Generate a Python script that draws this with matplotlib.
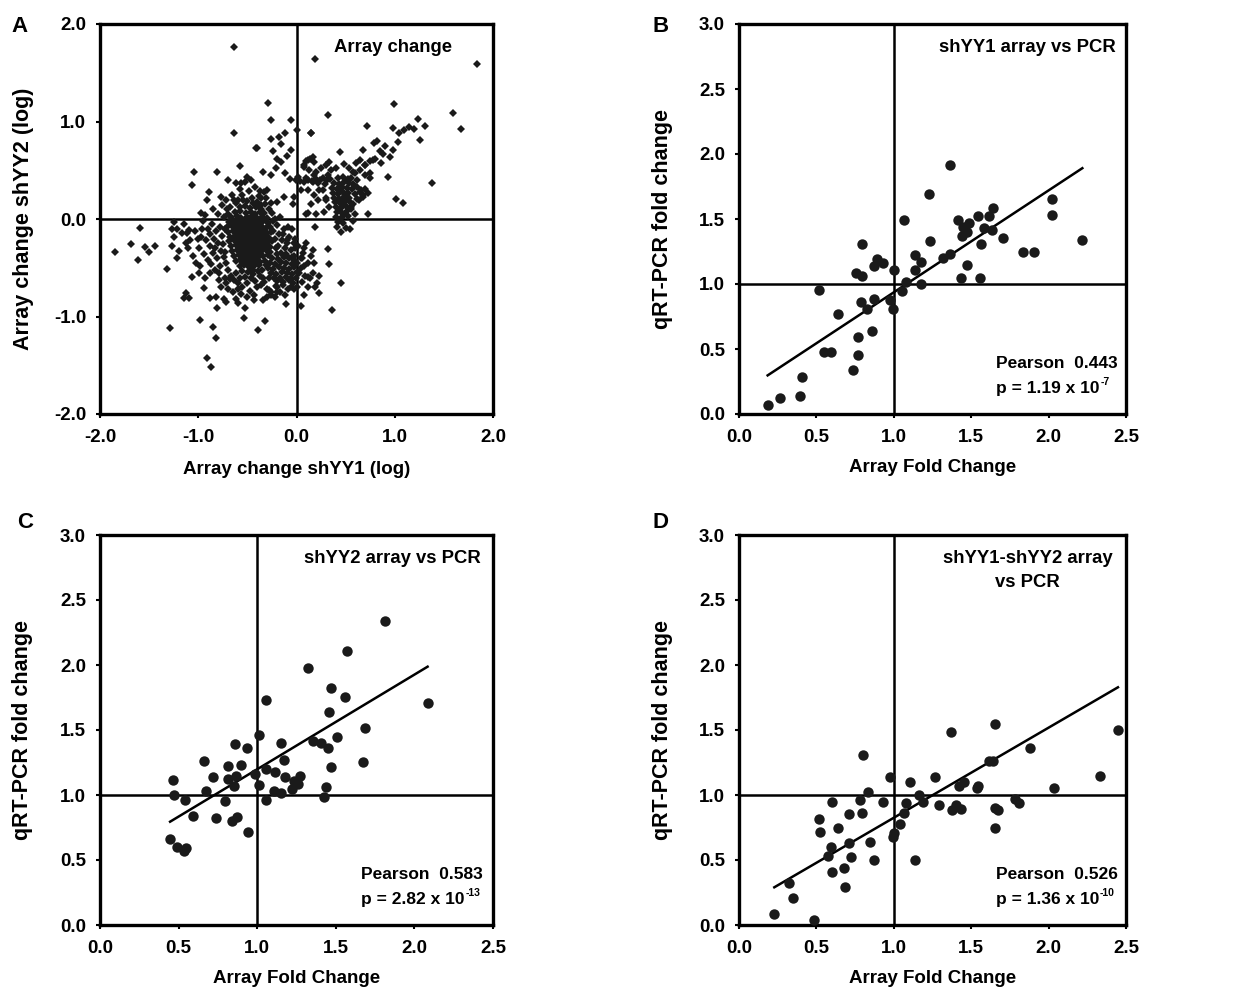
import matplotlib
matplotlib.use("Agg")
import matplotlib.pyplot as plt
import numpy as np

# ---------------- data ----------------
# Panel A: array log changes, shYY1 (x) vs shYY2 (y)
a_outliers = [
    (-0.635, 1.766), (0.187, 1.636), (1.834, 1.588), (-0.289, 1.192), (0.995, 1.175),
    (0.323, 1.066), (1.596, 1.09), (-0.261, 1.015), (-0.058, 1.015), (-0.635, 0.878),
    (0.713, 0.956), (1.677, 0.919), (1.311, 0.956), (1.24, 1.025), (0.978, 0.929),
    (1.046, 0.885), (1.097, 0.912), (1.148, 0.946), (1.199, 0.919), (1.26, 0.81),
    (0.01, 0.912), (0.149, 0.878), (-0.119, 0.878), (-0.177, 0.844), (-0.255, 0.816),
    (-0.407, 0.731), (-0.16, 0.765), (-0.058, 0.707), (0.815, 0.799), (0.791, 0.775),
    (1.029, 0.792), (0.978, 0.707), (0.954, 0.639), (0.876, 0.666), (0.774, 0.605),
    (0.859, 0.57), (0.672, 0.707), (0.645, 0.605), (0.696, 0.553), (0.747, 0.468),
    (0.604, 0.57), (0.441, 0.69), (0.326, 0.588), (0.401, 0.526), (0.486, 0.56),
    (0.53, 0.519), (0.577, 0.485), (0.927, 0.434), (1.012, 0.205), (1.08, 0.161),
    (1.375, 0.369), (0.73, 0.048), (0.458, -0.13), (0.547, -0.106), (0.452, -0.659),
    (0.36, -0.932), (0.316, -0.311), (0.333, -0.465), (0.187, -0.079), (0.112, 0.058),
    (0.163, 0.383), (0.18, 0.451), (0.078, 0.536), (0.112, 0.605), (0.163, 0.639),
    (0.146, 0.878), (0.231, 0.297), (0.299, 0.195), (0.282, 0.075), (-0.024, 0.229),
    (-0.031, 0.154), (0.80, 0.62), (0.85, 0.70), (0.90, 0.75), (0.70, 0.55), (0.75, 0.60),
]
a_left = [
    (-1.851, -0.335), (-1.688, -0.256), (-1.613, -0.42), (-1.593, -0.089), (-1.545, -0.29),
    (-1.497, -0.342), (-1.443, -0.273), (-1.314, -0.509), (-1.284, -1.114), (-1.246, -0.027),
    (-1.263, -0.102), (-1.212, -0.106), (-1.161, -0.147), (-1.246, -0.188), (-1.263, -0.277),
    (-1.195, -0.325), (-1.212, -0.403), (-1.127, -0.249), (-1.11, -0.147), (-1.093, -0.113),
    (-1.059, 0.345), (-1.042, 0.482), (-1.059, -0.591), (-1.127, -0.762), (-1.144, -0.813),
    (-1.093, -0.813), (-0.985, -1.035), (-0.941, -0.711), (-0.992, -0.557), (-0.907, -1.428),
    (-0.873, -1.513), (-0.852, -1.103), (-0.822, -1.216), (-0.883, -0.813), (-0.822, -0.796),
    (-0.805, -0.915), (-0.737, -0.82), (-0.713, -0.847), (-0.591, -0.864), (-0.523, -0.915),
    (-0.533, -1.018), (-0.431, -0.83), (-0.387, -1.138), (-0.319, -1.045), (-0.346, -0.83),
    (-0.805, 0.485), (-0.693, 0.4), (-0.611, 0.372), (-0.577, 0.547), (-0.506, 0.434),
    (-0.411, 0.731), (-0.346, 0.478), (-0.771, 0.229), (-0.89, 0.28), (-0.907, 0.195),
    (-0.975, 0.058), (-0.329, 0.273), (-0.194, 0.178), (-0.132, 0.229), (-0.211, -0.687),
    (-0.102, -0.874), (0.044, -0.892), (0.078, -0.779), (0.224, -0.762), (0.207, -0.659),
    (0.231, -0.581), (0.163, -0.55), (0.112, -0.591), (0.044, -0.506), (0.163, -0.318),
    (0.078, -0.301), (0.061, -0.403), (-0.041, -0.386), (-0.024, -0.249), (-0.092, -0.215),
    (-0.194, -0.745), (-0.278, -0.728), (-0.261, -0.752), (-0.058, -0.618), (-0.058, -0.70),
    (-0.024, -0.721),
]
a_main_blob = [
    (-0.58, 0.12), (-0.52, 0.13), (-0.47, 0.11), (-0.41, 0.12), (-0.36, 0.10),
    (-0.63, 0.07), (-0.57, 0.08), (-0.51, 0.06), (-0.46, 0.07), (-0.42, 0.05), (-0.37, 0.07), (-0.33, 0.06),
    (-0.67, 0.02), (-0.61, 0.03), (-0.56, 0.01), (-0.50, 0.02), (-0.45, 0.03), (-0.40, 0.01), (-0.35, 0.02), (-0.30, 0.01),
    (-0.69, -0.03), (-0.64, -0.02), (-0.59, -0.04), (-0.54, -0.03), (-0.49, -0.02), (-0.44, -0.04), (-0.39, -0.03), (-0.34, -0.02), (-0.29, -0.04),
    (-0.71, -0.08), (-0.66, -0.07), (-0.61, -0.09), (-0.56, -0.08), (-0.51, -0.07), (-0.46, -0.09), (-0.41, -0.08), (-0.36, -0.07), (-0.31, -0.09), (-0.27, -0.08),
    (-0.70, -0.13), (-0.65, -0.12), (-0.60, -0.14), (-0.55, -0.13), (-0.50, -0.12), (-0.45, -0.14), (-0.40, -0.13), (-0.35, -0.12), (-0.30, -0.14), (-0.26, -0.13),
    (-0.68, -0.18), (-0.63, -0.17), (-0.58, -0.19), (-0.53, -0.18), (-0.48, -0.17), (-0.43, -0.19), (-0.38, -0.18), (-0.33, -0.17), (-0.28, -0.19),
    (-0.69, -0.23), (-0.64, -0.22), (-0.59, -0.24), (-0.54, -0.23), (-0.49, -0.22), (-0.44, -0.24), (-0.39, -0.23), (-0.34, -0.22), (-0.29, -0.24),
    (-0.67, -0.28), (-0.62, -0.27), (-0.57, -0.29), (-0.52, -0.28), (-0.47, -0.27), (-0.42, -0.29), (-0.37, -0.28), (-0.32, -0.27), (-0.27, -0.29),
    (-0.66, -0.33), (-0.61, -0.32), (-0.56, -0.34), (-0.51, -0.33), (-0.46, -0.32), (-0.41, -0.34), (-0.36, -0.33), (-0.31, -0.32),
    (-0.64, -0.38), (-0.59, -0.37), (-0.54, -0.39), (-0.49, -0.38), (-0.44, -0.37), (-0.39, -0.39), (-0.34, -0.38), (-0.29, -0.37),
    (-0.62, -0.43), (-0.57, -0.42), (-0.52, -0.44), (-0.47, -0.43), (-0.42, -0.42), (-0.37, -0.44), (-0.32, -0.43),
    (-0.58, -0.48), (-0.53, -0.47), (-0.48, -0.49), (-0.43, -0.48), (-0.38, -0.47),
    (-0.55, -0.53), (-0.49, -0.54), (-0.44, -0.52), (-0.39, -0.53),
]
# densest part of the main cluster (fills the solid core)
a_core = [
    (-0.60, 0.00), (-0.55, -0.01), (-0.50, 0.00), (-0.45, -0.01), (-0.40, 0.00), (-0.36, -0.01),
    (-0.62, -0.05), (-0.57, -0.06), (-0.52, -0.05), (-0.47, -0.06), (-0.42, -0.05), (-0.37, -0.06),
    (-0.63, -0.10), (-0.58, -0.11), (-0.53, -0.10), (-0.48, -0.11), (-0.43, -0.10), (-0.38, -0.11), (-0.33, -0.10),
    (-0.62, -0.15), (-0.57, -0.16), (-0.52, -0.15), (-0.47, -0.16), (-0.42, -0.15), (-0.37, -0.16), (-0.32, -0.15),
    (-0.61, -0.20), (-0.56, -0.21), (-0.51, -0.20), (-0.46, -0.21), (-0.41, -0.20), (-0.36, -0.21), (-0.31, -0.20),
    (-0.60, -0.25), (-0.55, -0.26), (-0.50, -0.25), (-0.45, -0.26), (-0.40, -0.25), (-0.35, -0.26),
    (-0.59, -0.30), (-0.54, -0.31), (-0.49, -0.30), (-0.44, -0.31), (-0.39, -0.30), (-0.34, -0.31),
    (-0.57, -0.35), (-0.52, -0.36), (-0.47, -0.35), (-0.42, -0.36), (-0.37, -0.35),
    (-0.55, -0.40), (-0.50, -0.41), (-0.45, -0.40), (-0.40, -0.41),
    (-0.53, -0.45), (-0.48, -0.46), (-0.43, -0.45),
]
a_lower_band = [
    (-0.25, -0.40), (-0.19, -0.41), (-0.13, -0.39), (-0.08, -0.40), (-0.03, -0.42),
    (-0.27, -0.45), (-0.22, -0.46), (-0.16, -0.44), (-0.11, -0.45), (-0.05, -0.46),
    (-0.29, -0.50), (-0.24, -0.51), (-0.18, -0.49), (-0.13, -0.50), (-0.08, -0.51), (-0.03, -0.49),
    (-0.26, -0.55), (-0.21, -0.56), (-0.15, -0.54), (-0.10, -0.55), (-0.05, -0.56), (0.00, -0.54),
    (-0.23, -0.60), (-0.17, -0.61), (-0.11, -0.59), (-0.06, -0.60), (-0.01, -0.61),
    (-0.20, -0.64), (-0.14, -0.65), (-0.08, -0.63),
]
a_halo = [
    (-0.95, -0.02), (-0.90, -0.10), (-0.86, -0.05), (-0.82, -0.12), (-0.97, -0.18), (-0.92, -0.22),
    (-0.88, -0.28), (-0.84, -0.20), (-0.80, -0.25), (-0.76, -0.17), (-0.78, -0.08), (-0.74, 0.02),
    (-0.80, 0.05), (-0.85, 0.10), (-0.76, 0.14), (-0.71, 0.10), (-0.99, -0.30), (-0.94, -0.36),
    (-0.90, -0.42), (-0.85, -0.35), (-0.81, -0.40), (-0.77, -0.33), (-0.74, -0.39), (-0.72, -0.45),
    (-0.78, -0.48), (-0.83, -0.52), (-0.88, -0.55), (-0.93, -0.60), (-1.02, -0.45), (-1.05, -0.38),
    (-1.08, -0.22), (-1.03, -0.12), (-0.70, -0.52), (-0.67, -0.58), (-0.73, -0.60), (-0.79, -0.63),
    (-0.64, -0.63), (-0.60, -0.66), (-0.55, -0.70), (-0.50, -0.66), (-0.46, -0.60), (-0.42, -0.64),
    (-0.37, -0.58), (-0.33, -0.65), (-0.40, -0.70), (-0.47, -0.74), (-0.30, -0.72), (-0.26, -0.78),
    (-0.22, -0.80), (-0.17, -0.75), (-0.12, -0.78), (-0.70, -0.72), (-0.65, -0.75), (-0.60, -0.72),
    (-0.66, 0.25), (-0.60, 0.20), (-0.55, 0.25), (-0.50, 0.18), (-0.45, 0.22), (-0.40, 0.17),
    (-0.36, 0.22), (-0.32, 0.15), (-0.28, 0.10), (-0.62, 0.16), (-0.68, 0.12), (-0.58, 0.31),
    (-0.48, 0.29), (-0.42, 0.33), (-0.52, 0.38), (-0.37, 0.29), (-0.30, 0.30), (-0.25, 0.06),
    (-0.22, 0.00), (-0.20, -0.06), (-0.24, -0.12), (-0.18, -0.15), (-0.22, -0.20), (-0.15, -0.22),
    (-0.19, -0.28), (-0.12, -0.30), (-0.16, -0.35), (-0.10, -0.25), (-0.06, -0.32), (-0.03, -0.38),
    (-0.08, -0.18), (-0.13, -0.10), (-0.17, 0.02), (-0.05, -0.10), (-0.02, -0.20), (0.02, -0.28),
    (0.05, -0.40), (0.08, -0.48), (0.12, -0.45), (0.03, -0.55), (0.09, -0.58), (0.14, -0.60),
    (0.06, -0.65), (0.00, -0.70), (-0.04, -0.66),
    (-0.07, 0.41), (-0.12, 0.47), (-0.16, 0.58), (-0.20, 0.62), (-0.24, 0.70), (-0.21, 0.52),
    (-0.26, 0.45), (-0.10, 0.65),
]
a_halo_extra = [
    (-0.93, 0.04), (-0.88, -0.15), (-0.83, -0.30), (-0.87, -0.46), (-0.79, -0.55), (-0.75, -0.26),
    (-0.73, -0.10), (-0.73, -0.34), (-0.70, 0.05), (-0.72, -0.66), (-0.62, -0.55), (-0.57, -0.60),
    (-0.52, -0.59), (-0.44, -0.56), (-0.35, -0.52), (-0.31, -0.47), (-0.27, -0.34), (-0.25, -0.23),
    (-0.24, -0.02), (-0.26, 0.16), (-0.31, 0.22), (-0.36, 0.14), (-0.44, 0.16), (-0.54, 0.19),
    (-0.64, 0.20), (-0.72, 0.19), (-0.56, 0.37), (-0.46, 0.40), (-0.38, 0.24), (-0.34, -0.61),
    (-0.28, -0.60), (-0.36, -0.68), (-0.56, -0.77), (-0.62, -0.82), (-0.50, -0.80), (-0.43, -0.78),
    (-0.30, -0.80), (-0.20, -0.70), (-0.14, -0.68), (-0.09, -0.72), (-0.21, -0.30), (-0.14, -0.15),
    (-0.09, -0.08), (-0.11, -0.36), (-0.20, -0.36), (-0.02, -0.30), (0.01, -0.45), (0.07, -0.35),
    (0.10, -0.25), (0.15, -0.38), (0.18, -0.45), (0.19, -0.70), (0.12, -0.70), (-0.98, -0.48),
    (-0.96, -0.10), (-1.00, -0.20), (-1.10, -0.30), (-1.15, -0.05), (-0.68, -0.62), (-0.77, -0.70),
]
a_right_cluster = [
    (0.42, 0.42), (0.47, 0.43), (0.52, 0.41),
    (0.38, 0.37), (0.43, 0.36), (0.48, 0.38), (0.53, 0.37), (0.58, 0.36),
    (0.36, 0.32), (0.41, 0.31), (0.46, 0.33), (0.51, 0.32), (0.56, 0.31),
    (0.37, 0.27), (0.42, 0.26), (0.47, 0.28), (0.52, 0.27), (0.60, 0.26), (0.65, 0.28),
    (0.38, 0.22), (0.43, 0.21), (0.48, 0.23), (0.53, 0.22), (0.62, 0.21), (0.68, 0.23),
    (0.39, 0.17), (0.44, 0.16), (0.49, 0.18), (0.54, 0.17),
    (0.40, 0.12), (0.45, 0.11), (0.50, 0.13), (0.55, 0.12),
    (0.41, 0.07), (0.46, 0.06), (0.51, 0.08),
    (0.40, 0.02), (0.45, 0.01), (0.52, 0.03),
    (0.42, -0.03), (0.47, -0.04), (0.41, -0.08), (0.50, -0.09),
    (0.62, 0.33), (0.66, 0.30), (0.70, 0.31), (0.73, 0.27), (0.68, 0.25), (0.64, 0.20),
    (0.58, 0.15), (0.55, 0.10), (0.60, 0.05), (0.57, -0.02), (0.55, 0.42), (0.60, 0.47),
    (0.65, 0.50), (0.70, 0.45), (0.75, 0.42), (0.62, 0.40),
    (0.44, 0.29), (0.49, 0.25), (0.45, 0.19), (0.47, 0.14), (0.43, 0.09), (0.48, 0.04),
]
a_top_band = [
    (-0.01, 0.40), (0.04, 0.39), (0.08, 0.38), (0.12, 0.40), (0.16, 0.39), (0.20, 0.41),
    (0.24, 0.40), (0.27, 0.42), (0.31, 0.40), (0.34, 0.41), (0.02, 0.43), (0.10, 0.42),
    (0.22, 0.37), (0.29, 0.36),
    (0.08, 0.55), (0.10, 0.60), (0.14, 0.62), (0.18, 0.58), (0.13, 0.50), (0.20, 0.48),
    (0.25, 0.52), (0.30, 0.55), (0.35, 0.50), (0.32, 0.45),
    (0.05, 0.30), (0.12, 0.30), (0.18, 0.25), (0.22, 0.20), (0.15, 0.15), (0.10, 0.05),
    (0.27, 0.30), (0.30, 0.22), (0.33, 0.12), (0.20, 0.05),
]

# Panel B: shYY1 array fold change vs qRT-PCR fold change
b_x = [0.185, 0.267, 0.392, 0.407, 0.517, 0.55, 0.593, 0.642, 0.737, 0.767, 0.767, 0.754,
       0.793, 0.795, 0.791, 0.825, 0.862, 0.871, 0.871, 0.892, 0.931, 0.978, 0.996, 1.0,
       1.052, 1.069, 1.078, 1.134, 1.134, 1.177, 1.175, 1.226, 1.235, 1.319, 1.364, 1.362,
       1.416, 1.438, 1.435, 1.45, 1.47, 1.485, 1.474, 1.545, 1.56, 1.565, 1.58, 1.618,
       1.64, 1.634, 1.703, 1.832, 1.903, 2.019, 2.024, 2.218]
b_y = [0.067, 0.12, 0.136, 0.282, 0.953, 0.474, 0.474, 0.771, 0.336, 0.592, 0.456, 1.084,
       1.058, 1.307, 0.858, 0.807, 0.635, 0.884, 1.135, 1.189, 1.158, 0.874, 0.807, 1.104,
       0.948, 1.496, 1.017, 1.222, 1.107, 1.173, 1.002, 1.691, 1.332, 1.199, 1.23, 1.919,
       1.489, 1.366, 1.05, 1.44, 1.399, 1.471, 1.143, 1.522, 1.045, 1.307, 1.43, 1.524,
       1.583, 1.414, 1.355, 1.248, 1.248, 1.532, 1.655, 1.34]

# Panel C: shYY2 array fold change vs qRT-PCR fold change
c_x = [0.446, 0.467, 0.469, 0.492, 0.537, 0.545, 0.541, 0.594, 0.664, 0.673, 0.722, 0.736,
       0.796, 0.815, 0.813, 0.838, 0.851, 0.86, 0.866, 0.872, 0.896, 0.932, 0.944, 0.987,
       1.012, 1.014, 1.055, 1.055, 1.059, 1.108, 1.116, 1.152, 1.154, 1.171, 1.178, 1.22,
       1.237, 1.261, 1.271, 1.32, 1.356, 1.403, 1.428, 1.439, 1.454, 1.452, 1.469, 1.469,
       1.509, 1.556, 1.573, 1.672, 1.683, 1.81, 2.084]
c_y = [0.659, 1.115, 1.003, 0.603, 0.572, 0.595, 0.962, 0.838, 1.264, 1.031, 1.141, 0.826,
       0.956, 1.223, 1.121, 0.8, 1.069, 1.392, 1.149, 0.833, 1.231, 1.359, 0.718, 1.159,
       1.462, 1.077, 1.197, 0.962, 1.731, 1.033, 1.179, 1.397, 1.013, 1.269, 1.141, 1.046,
       1.108, 1.082, 1.149, 1.974, 1.415, 1.397, 0.987, 1.064, 1.636, 1.364, 1.218, 1.826,
       1.449, 1.756, 2.108, 1.256, 1.513, 2.338, 1.705]

# Panel D: shYY1-shYY2 array fold change vs qRT-PCR fold change
d_x = [0.224, 0.323, 0.351, 0.485, 0.515, 0.522, 0.578, 0.593, 0.603, 0.601, 0.638, 0.681,
       0.683, 0.711, 0.713, 0.724, 0.782, 0.795, 0.802, 0.836, 0.845, 0.871, 0.933, 0.976,
       0.994, 1.002, 1.037, 1.067, 1.08, 1.103, 1.134, 1.162, 1.188, 1.269, 1.295, 1.371,
       1.377, 1.403, 1.42, 1.431, 1.453, 1.537, 1.547, 1.616, 1.644, 1.651, 1.651, 1.655,
       1.672, 1.78, 1.806, 1.877, 2.032, 2.334, 2.448]
d_y = [0.082, 0.321, 0.205, 0.038, 0.813, 0.713, 0.531, 0.597, 0.949, 0.41, 0.749, 0.436,
       0.295, 0.628, 0.851, 0.521, 0.962, 0.864, 1.308, 1.026, 0.641, 0.5, 0.949, 1.141,
       0.679, 0.705, 0.774, 0.864, 0.936, 1.097, 0.5, 1.0, 0.949, 1.136, 0.923, 1.482,
       0.885, 0.923, 1.072, 0.89, 1.097, 1.051, 1.069, 1.262, 1.262, 1.544, 0.897, 0.744,
       0.885, 0.967, 0.941, 1.359, 1.056, 1.149, 1.5]

# regression lines: (x_start, x_end, slope, intercept)
b_fit = (0.185, 2.218, 0.784, 0.152)
c_fit = (0.446, 2.084, 0.728, 0.470)
d_fit = (0.228, 2.448, 0.693, 0.132)

b_stats = ("0.443", "1.19", "-7")
c_stats = ("0.583", "2.82", "-13")
d_stats = ("0.526", "1.36", "-10")

# ---------------- style ----------------
plt.rcParams.update({
    "font.family": ["Liberation Sans", "DejaVu Sans"],
    "font.weight": "bold",
    "axes.labelweight": "bold",
    "axes.unicode_minus": False,
})

W, H = 1249, 990
fig = plt.figure(figsize=(W / 100, H / 100), dpi=100)


def add_axes_px(left, top, right, bottom):
    return fig.add_axes([left / W, 1 - bottom / H, (right - left) / W, (bottom - top) / H])


def style(ax, xlim, ylim, xticks, yticks, ref):
    ax.set_xlim(*xlim)
    ax.set_ylim(*ylim)
    ax.set_xticks(xticks)
    ax.set_yticks(yticks)
    ax.set_xticklabels([f"{t:.1f}" for t in xticks])
    ax.set_yticklabels([f"{t:.1f}" for t in yticks])
    ax.tick_params(direction="out", length=3, width=1.5, labelsize=13.5, pad=7)
    ax.tick_params(axis="x", pad=8)
    for sp in ax.spines.values():
        sp.set_linewidth(2.4)
    ax.axvline(ref, color="black", lw=1.8, zorder=1)
    ax.axhline(ref, color="black", lw=1.8, zorder=1)


def fit_line(ax, fit):
    x0, x1, m, b = fit
    xs = np.array([x0, x1])
    ax.plot(xs, m * xs + b, color="black", lw=1.8, zorder=2)


def stats_text(ax, st):
    r, p, e = st
    ax.text(0.664, 0.13, f"Pearson  {r}", transform=ax.transAxes, fontsize=12.5,
            ha="left", va="center")
    base = ax.text(0.664, 0.066, f"p = {p} x 10", transform=ax.transAxes,
                   fontsize=12.5, ha="left", va="center")
    ax.annotate(e, xy=(1.0, 0.92), xycoords=base, xytext=(0.5, 0),
                textcoords="offset points", fontsize=7.5, ha="left", va="center")


# Panel A
axA = add_axes_px(100, 24, 493, 414)
style(axA, (-2, 2), (-2, 2), [-2.0, -1.0, 0.0, 1.0, 2.0], [-2.0, -1.0, 0.0, 1.0, 2.0], 0.0)
a_pts = np.array(a_outliers + a_left + a_main_blob + a_core + a_lower_band + a_halo
                 + a_halo_extra + a_right_cluster + a_top_band)
axA.plot(a_pts[:, 0], a_pts[:, 1], linestyle="none", marker="D", markersize=4.2,
         color="#1a1a1a", markeredgewidth=0, zorder=3)
axA.set_xlabel("Array change shYY1 (log)", fontsize=13.5)
axA.set_ylabel("Array change shYY2 (log)", fontsize=15.5)
axA.xaxis.set_label_coords(0.5, -0.12)
axA.yaxis.set_label_coords(-0.168, 0.5)
axA.text(0.745, 0.941, "Array change", transform=axA.transAxes, fontsize=13.3,
         ha="center", va="center")

panels = [
    ((739, 24, 1126, 414), b_x, b_y, b_fit, b_stats, ["shYY1 array vs PCR"]),
    ((100, 535, 493, 925), c_x, c_y, c_fit, c_stats, ["shYY2 array vs PCR"]),
    ((739, 535, 1126, 925), d_x, d_y, d_fit, d_stats, ["shYY1-shYY2 array", "vs PCR"]),
]
for box, xs, ys, fit, st, title in panels:
    ax = add_axes_px(*box)
    style(ax, (0, 2.5), (0, 3.0), [0.0, 0.5, 1.0, 1.5, 2.0, 2.5],
          [0.0, 0.5, 1.0, 1.5, 2.0, 2.5, 3.0], 1.0)
    ax.plot(xs, ys, linestyle="none", marker="o", markersize=7.5, color="#1a1a1a",
            markeredgewidth=0, zorder=3)
    fit_line(ax, fit)
    ax.set_xlabel("Array Fold Change", fontsize=13.5)
    ax.set_ylabel("qRT-PCR fold change", fontsize=15.5)
    ax.xaxis.set_label_coords(0.5, -0.115)
    ax.yaxis.set_label_coords(-0.17, 0.5)
    for i, line in enumerate(title):
        ax.text(0.745, 0.941 - i * 0.062, line, transform=ax.transAxes, fontsize=13.3,
                ha="center", va="center")
    stats_text(ax, st)

for label, x, y in [("A", 20, 26), ("B", 661, 26), ("C", 25, 522), ("D", 661, 522)]:
    fig.text(x / W, 1 - y / H, label, fontsize=16, ha="center", va="center")

fig.savefig("out.png", dpi=100)
